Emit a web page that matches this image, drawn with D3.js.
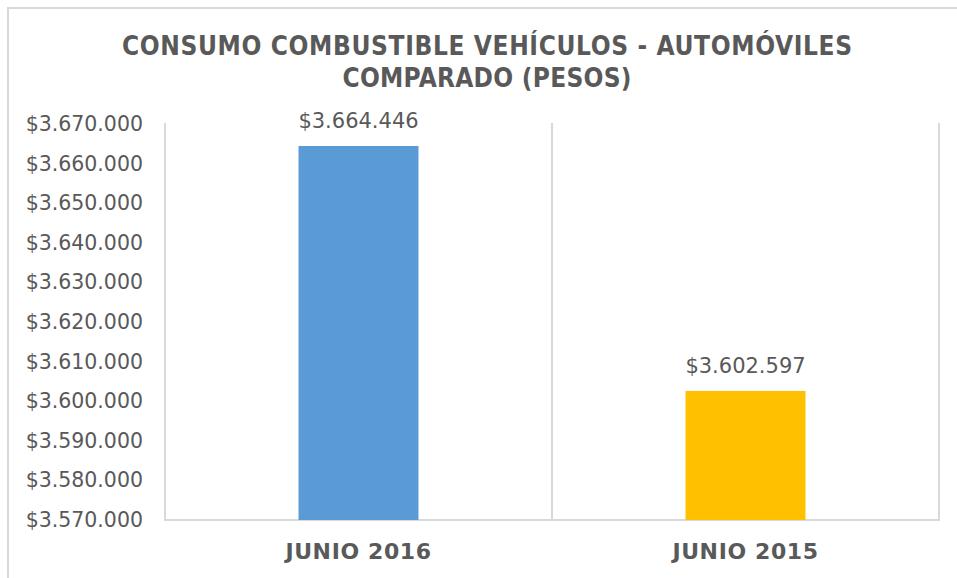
<!DOCTYPE html>
<html>
<head>
<meta charset="utf-8">
<script src="https://cdn.jsdelivr.net/npm/d3@7"></script>
<style>
  html, body { margin: 0; padding: 0; background: #fff; }
  svg { display: block; }
</style>
</head>
<body>
<svg id="chart" width="957" height="578"></svg>
<script>
const categories = ["JUNIO 2016", "JUNIO 2015"];
const values = [3664446, 3602597];
const barColors = ["#5B9BD5", "#FFC000"];
const yTicks = [3570000, 3580000, 3590000, 3600000, 3610000, 3620000, 3630000, 3640000, 3650000, 3660000, 3670000];
const titleLines = ["CONSUMO COMBUSTIBLE VEHÍCULOS - AUTOMÓVILES", "COMPARADO (PESOS)"];

const locale = d3.formatLocale({ decimal: ",", thousands: ".", grouping: [3], currency: ["$", ""] });
const fmt = locale.format("$,.0f");

const svg = d3.select("#chart");
const textColor = "#595959";
const gridColor = "#D9D9D9";
const plot = { left: 165, right: 939, top: 123, bottom: 520 };

// outer chart frame (extends beyond the visible area)
svg.append("rect")
  .attr("x", 8).attr("y", 8).attr("width", 1000).attr("height", 1000)
  .attr("fill", "none").attr("stroke", gridColor).attr("stroke-width", 2);

const x = d3.scaleBand().domain(categories).range([plot.left, plot.right]).padding(0);
const y = d3.scaleLinear().domain([3570000, 3670000]).range([plot.bottom, 124]);

// vertical category gridlines
const edges = [plot.left, ...categories.map(c => x(c) + x.bandwidth())];
svg.append("g").selectAll("line").data(edges).join("line")
  .attr("x1", d => d).attr("x2", d => d)
  .attr("y1", plot.top).attr("y2", plot.bottom)
  .attr("stroke", gridColor).attr("stroke-width", 2);
svg.append("line")
  .attr("x1", plot.left - 1).attr("x2", plot.right + 1)
  .attr("y1", plot.bottom).attr("y2", plot.bottom)
  .attr("stroke", gridColor).attr("stroke-width", 2);

// bars
const barW = x.bandwidth() * 0.31;
svg.append("g").selectAll("rect").data(values).join("rect")
  .attr("x", (d, i) => x(categories[i]) + x.bandwidth() / 2 - barW / 2)
  .attr("width", barW)
  .attr("y", d => y(d))
  .attr("height", d => y(3570000) - y(d))
  .attr("fill", (d, i) => barColors[i]);

// data labels
svg.append("g").selectAll("text").data(values).join("text")
  .attr("x", (d, i) => x(categories[i]) + x.bandwidth() / 2)
  .attr("y", d => y(d) - 18)
  .attr("text-anchor", "middle")
  .attr("font-family", "DejaVu Sans")
  .attr("font-size", 21)
  .attr("fill", textColor)
  .text(d => fmt(d));

// y axis
const yAxis = svg.append("g")
  .attr("transform", `translate(${plot.left},0)`)
  .call(d3.axisLeft(y).tickValues(yTicks).tickSize(0).tickPadding(22).tickFormat(fmt));
yAxis.select(".domain").remove();
yAxis.selectAll("text")
  .attr("font-family", "DejaVu Sans")
  .attr("font-size", 20.5)
  .attr("fill", textColor);

// x axis labels
const xAxis = svg.append("g")
  .attr("transform", `translate(0,${plot.bottom})`)
  .call(d3.axisBottom(x).tickSize(0).tickPadding(23));
xAxis.select(".domain").remove();
xAxis.selectAll("text")
  .attr("font-family", "DejaVu Sans")
  .attr("font-weight", "bold")
  .attr("font-size", 22)
  .attr("letter-spacing", 0.6)
  .attr("fill", textColor);

// title
const tWidths = [730, 289];
svg.append("g").selectAll("text").data(titleLines).join("text")
  .attr("x", 487)
  .attr("y", (d, i) => 55 + i * 32)
  .attr("text-anchor", "middle")
  .attr("font-family", "DejaVu Sans Condensed, DejaVu Sans")
  .attr("font-weight", "bold")
  .attr("font-size", 26)
  .attr("fill", textColor)
  .attr("textLength", (d, i) => tWidths[i])
  .attr("lengthAdjust", "spacing")
  .text(d => d);
</script>
</body>
</html>
